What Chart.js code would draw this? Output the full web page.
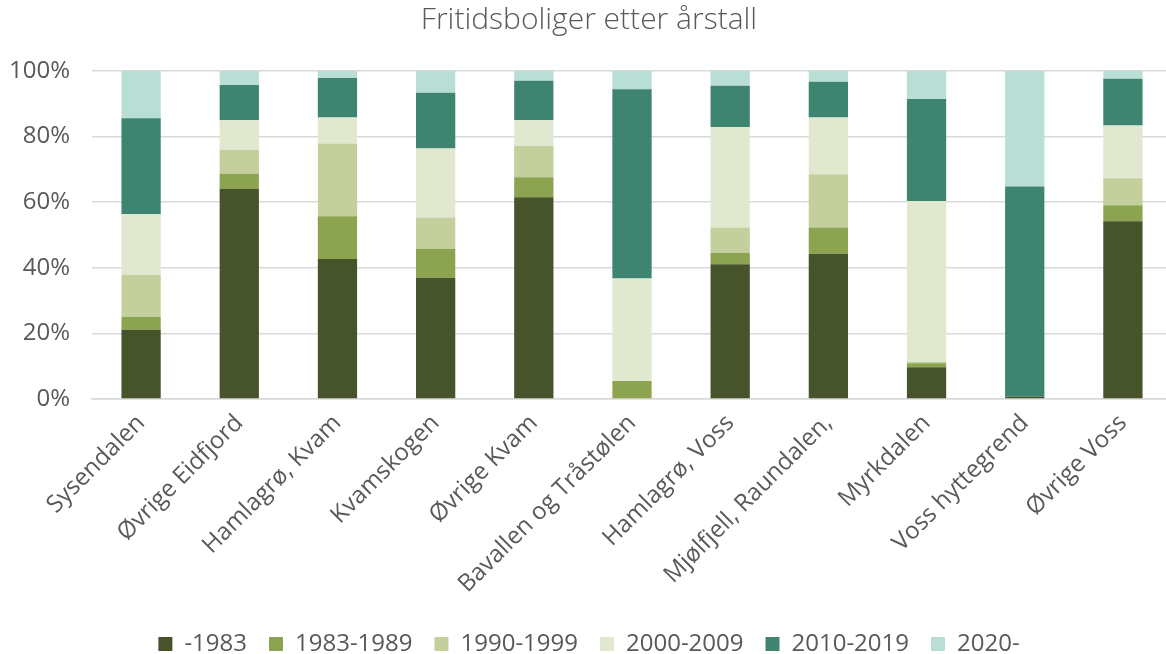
<!DOCTYPE html>
<html>
<head>
<meta charset="utf-8">
<script src="https://cdn.jsdelivr.net/npm/chart.js@4.4.1/dist/chart.umd.min.js"></script>
<style>
  html, body { margin: 0; padding: 0; background: #fff; overflow: hidden; }
  #wrap { width: 1172px; height: 666px; position: relative; }
</style>
</head>
<body>
<div id="wrap"><canvas id="fritid"></canvas></div>
<script>
// områder
const omraader = [
  "Sysendalen", "Øvrige Eidfjord", "Hamlagrø, Kvam", "Kvamskogen", "Øvrige Kvam",
  "Bavallen og Tråstølen", "Hamlagrø, Voss", "Mjølfjell, Raundalen,", "Myrkdalen",
  "Voss hyttegrend", "Øvrige Voss"
];

const serieNavn = ["-1983", "1983-1989", "1990-1999", "2000-2009", "2010-2019", "2020-"];

// andel i prosent, lest av figuren
const foer1983  = [21.1, 64.0, 42.7, 37.0, 61.5,  0.0, 41.1, 44.3,  9.7,  0.7, 54.2];
const aar83_89  = [ 3.9,  4.7, 13.0,  8.8,  6.1,  5.5,  3.5,  8.0,  1.2,  0.0,  4.9];
const aar90_99  = [12.9,  7.3, 22.2,  9.5,  9.5,  0.0,  7.7, 16.2,  0.4,  0.0,  8.2];
const aar00_09  = [18.4,  9.0,  7.9, 21.1,  7.9, 31.2, 30.6, 17.3, 49.1,  0.0, 16.1];
const aar10_19  = [29.3, 10.7, 12.1, 17.0, 12.0, 57.7, 12.6, 10.9, 31.1, 64.1, 14.2];
const aar20     = [14.4,  4.3,  2.1,  6.6,  3.0,  5.6,  4.5,  3.3,  8.5, 35.2,  2.4];

const farger = ["#47532b", "#8ca34f", "#c3d09d", "#e0e8d0", "#3e8470", "#b8ded5"];

const tekstFarge = "#595959";
const font = "'Open Sans', 'Liberation Sans', sans-serif";

const alleSerier = [foer1983, aar83_89, aar90_99, aar00_09, aar10_19, aar20];

const datasets = alleSerier.map((d, i) => ({
  label: serieNavn[i],
  data: d,
  backgroundColor: farger[i],
  borderWidth: 0,
  barPercentage: 1,
  categoryPercentage: 0.4
}));

new Chart(document.getElementById('fritid'), {
  type: 'bar',
  data: { labels: omraader, datasets: datasets },
  options: {
    responsive: true,
    maintainAspectRatio: false,
    animation: false,
    layout: { padding: { left: 6, right: 0, top: 0, bottom: 0 } },
    plugins: {
      title: {
        display: true,
        text: 'Fritidsboliger etter årstall',
        color: tekstFarge,
        font: { family: font, size: 30, weight: '300' },
        padding: { top: 2, bottom: 33 }
      },
      legend: {
        position: 'bottom',
        labels: {
          color: tekstFarge,
          font: { family: font, size: 24 },
          boxWidth: 14,
          boxHeight: 14,
          padding: 22
        }
      },
      tooltip: { enabled: false }
    },
    scales: {
      x: {
        stacked: true,
        grid: { display: false },
        border: { color: '#d9d9d9', width: 1.5 },
        ticks: {
          color: tekstFarge,
          font: { family: font, size: 24 },
          maxRotation: 45,
          minRotation: 45,
          padding: 2
        },
        afterFit: s => { s.height = 211; }
      },
      y: {
        stacked: true,
        min: 0,
        max: 100,
        grid: { color: '#d9d9d9', lineWidth: 1.5, drawTicks: false },
        border: { display: false },
        ticks: {
          stepSize: 20,
          color: tekstFarge,
          font: { family: font, size: 24 },
          padding: 22,
          callback: v => v + '%'
        },
        afterFit: s => { s.width = 86; }
      }
    }
  }
});
</script>
</body>
</html>
